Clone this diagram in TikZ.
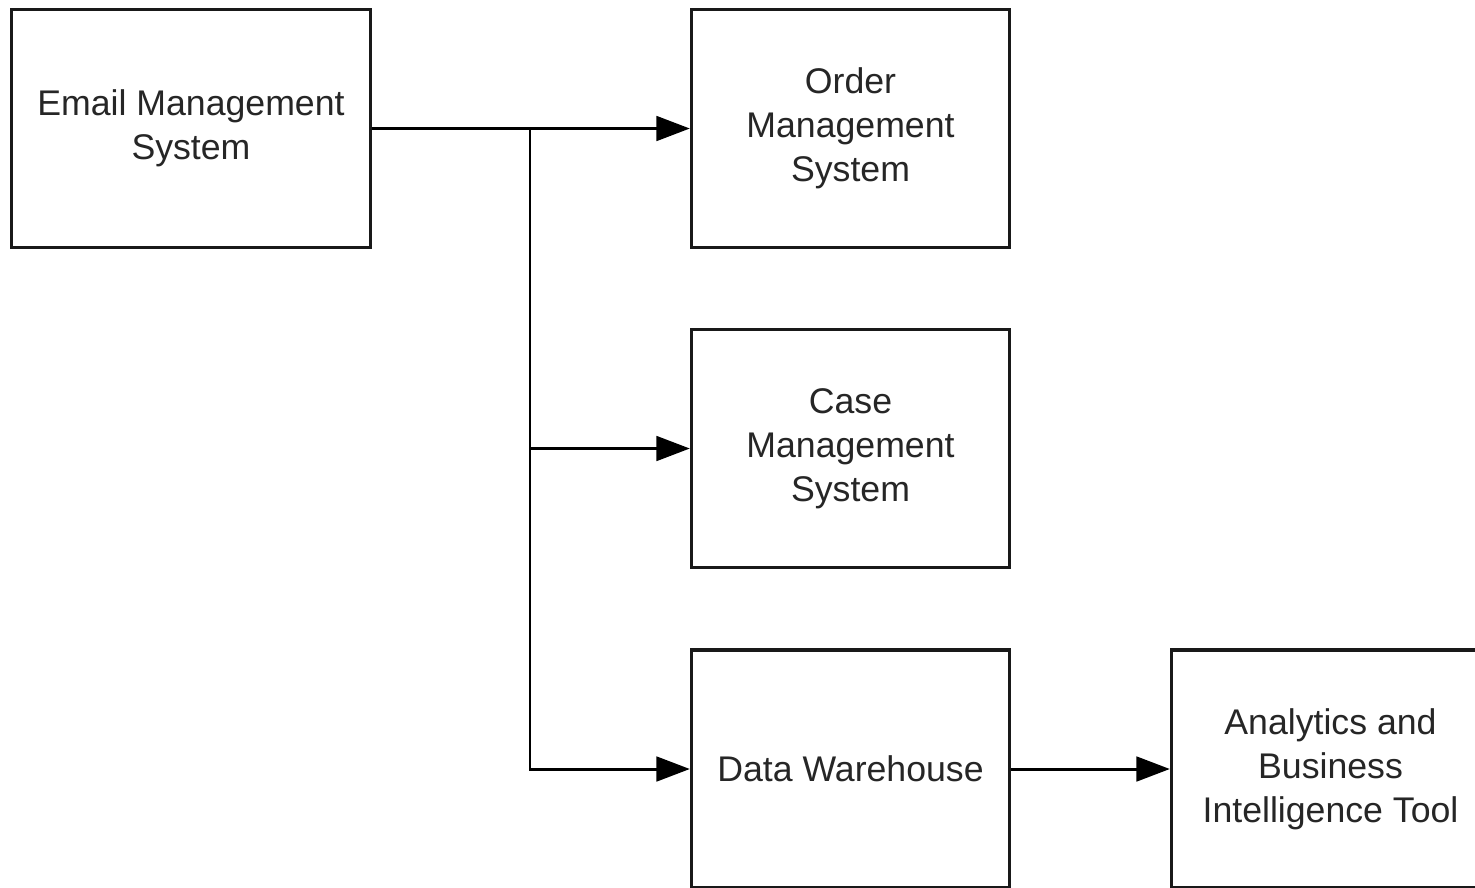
\documentclass[tikz,border=0pt]{standalone}
\usepackage{fontspec}
\setmainfont{Liberation Sans}
\usetikzlibrary{arrows.meta}
\begin{document}
\begin{tikzpicture}[x=0.02cm,y=-0.02cm,
  box/.style={draw=black!90, line width=1.9pt, rectangle, align=center,
    minimum width=318*0.02cm, minimum height=238*0.02cm, inner sep=0pt,
    font=\fontsize{20.3pt}{25pt}\selectfont, text=black!85},
  conn/.style={line width=1.7pt, draw=black,
    -{Triangle[length=19pt,width=14pt]}}]
\useasboundingbox (0,0) rectangle (1475,887);
\clip (0,0) rectangle (1475,887);
\fill[white] (0,0) rectangle (1475,887);
\node[box, minimum width=359*0.02cm] (email) at (191,128.5) {Email Management\\System};
\node[box] (order) at (850.5,128.5) {Order\\Management\\System};
\node[box] (case) at (850.5,448.5) {Case\\Management\\System};
\node[box] (dw) at (850.5,769) {Data Warehouse};
\node[box] (ana) at (1330.5,769) {Analytics and\\Business\\Intelligence Tool};
\coordinate (j1) at (530,128.5);
\draw[conn] (email.east) -- (order.west);
\draw[conn] (j1) |- (case.west);
\draw[conn] (j1) |- (dw.west);
\draw[conn] (dw.east) -- (ana.west);
\end{tikzpicture}
\end{document}
